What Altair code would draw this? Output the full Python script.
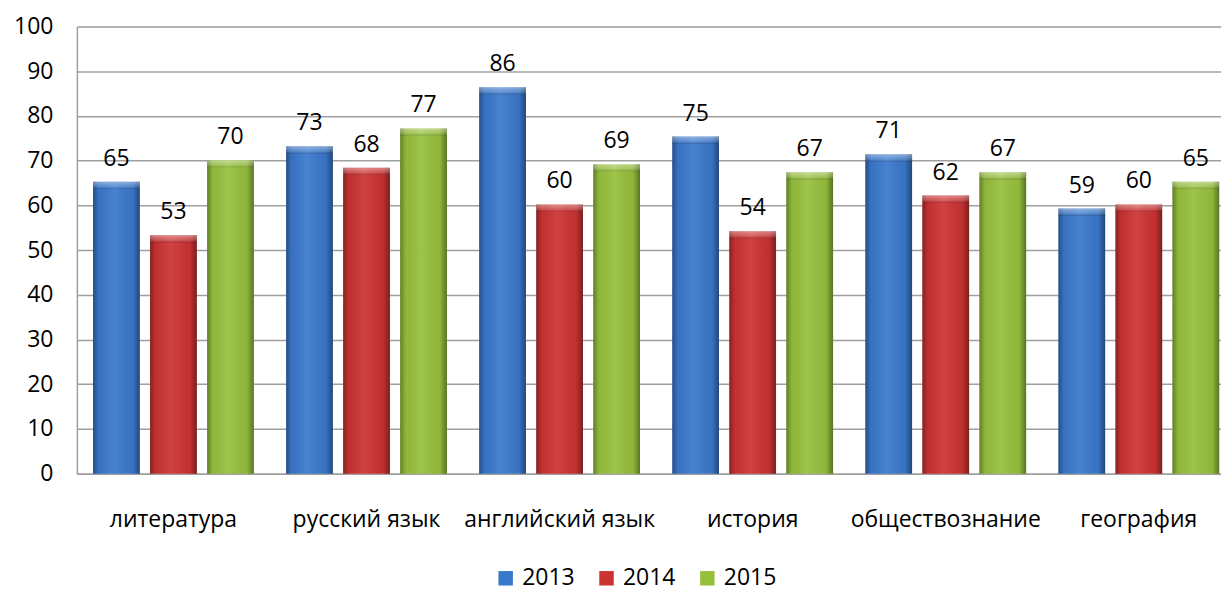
import altair as alt
import pandas as pd

categories = ["литература", "русский язык", "английский язык", "история", "обществознание", "география"]
years = ["2013", "2014", "2015"]
v2013 = [65.3, 73.2, 86.4, 75.4, 71.4, 59.3]
v2014 = [53.3, 68.4, 60.2, 54.2, 62.2, 60.2]
v2015 = [70.1, 77.2, 69.2, 67.4, 67.4, 65.3]
y_ticks = list(range(0, 101, 10))
colors = ["#3a78cc", "#cc3333", "#96c03c"]

rows = []
for yr, vals in zip(years, [v2013, v2014, v2015]):
    for c, v in zip(categories, vals):
        rows.append({"cat": c, "year": yr, "value": v})
df = pd.DataFrame(rows)

FONT = "Open Sans"
FS = 23

x_enc = alt.X("cat:N", sort=categories, title=None,
              scale=alt.Scale(paddingInner=0.167, paddingOuter=0.0465, align=0.9),
              axis=alt.Axis(labelAngle=0, ticks=False, labelPadding=35, labelFontSize=FS,
                            labelFont=FONT, labelColor="#000000", domainColor="#a0a0a0",
                            domainWidth=1.5, grid=False, labelLimit=0))
xo_enc = alt.XOffset("year:N", sort=years, scale=alt.Scale(domain=years, paddingInner=0.18, paddingOuter=0))
y_enc = alt.Y("value:Q", title=None, scale=alt.Scale(domain=[0, 100], nice=False),
              axis=alt.Axis(values=y_ticks, ticks=False, labelPadding=24, labelFontSize=FS,
                            labelFont=FONT, labelColor="#000000", domainColor="#a0a0a0",
                            domainWidth=1.5, gridColor="#a0a0a0", gridWidth=1.5))

base = alt.Chart(df)

bars = base.mark_bar().encode(
    x=x_enc, xOffset=xo_enc, y=y_enc,
    color=alt.Color("year:N", sort=years, title=None,
                    scale=alt.Scale(domain=years, range=colors),
                    legend=alt.Legend(orient="none", direction="horizontal", legendX=418, legendY=541,
                                      symbolType="square", symbolSize=210, symbolStrokeWidth=0,
                                      labelFontSize=FS, labelFont=FONT, labelColor="#000000",
                                      columnPadding=20, labelOffset=5)),
)

shade = base.mark_bar(
    fill=alt.Gradient(
        gradient="linear", x1=0, x2=1, y1=0, y2=0,
        stops=[
            alt.GradientStop(color="rgba(0,0,0,0.35)", offset=0),
            alt.GradientStop(color="rgba(0,0,0,0.05)", offset=0.12),
            alt.GradientStop(color="rgba(255,255,255,0.08)", offset=0.45),
            alt.GradientStop(color="rgba(0,0,0,0.05)", offset=0.85),
            alt.GradientStop(color="rgba(0,0,0,0.4)", offset=1),
        ],
    )
).encode(x=alt.X("cat:N", sort=categories), xOffset=alt.XOffset("year:N", sort=years), y="value:Q")

bevel = base.transform_calculate(top2="datum.value - 1.6").mark_bar(
    fill=alt.Gradient(
        gradient="linear", x1=0, x2=0, y1=0, y2=1,
        stops=[
            alt.GradientStop(color="rgba(255,255,255,0.4)", offset=0),
            alt.GradientStop(color="rgba(255,255,255,0.15)", offset=0.7),
            alt.GradientStop(color="rgba(0,0,0,0.15)", offset=1),
        ],
    )
).encode(x=alt.X("cat:N", sort=categories), xOffset=alt.XOffset("year:N", sort=years),
         y="value:Q", y2="top2:Q")

labels = base.mark_text(baseline="alphabetic", dy=-16, fontSize=FS, font=FONT, color="#000000").encode(
    x=alt.X("cat:N", sort=categories), xOffset=alt.XOffset("year:N", sort=years),
    y="value:Q", text=alt.Text("value:Q", format=".0f"),
)

chart = alt.layer(bars, shade, bevel, labels).properties(
    width=1146, height=448,
    padding={"left": 5, "top": 7, "right": 0, "bottom": 5},
).configure_view(stroke=None).configure(background="#ffffff")

chart.save("out.html", embed_options={"renderer": "svg", "actions": False})
